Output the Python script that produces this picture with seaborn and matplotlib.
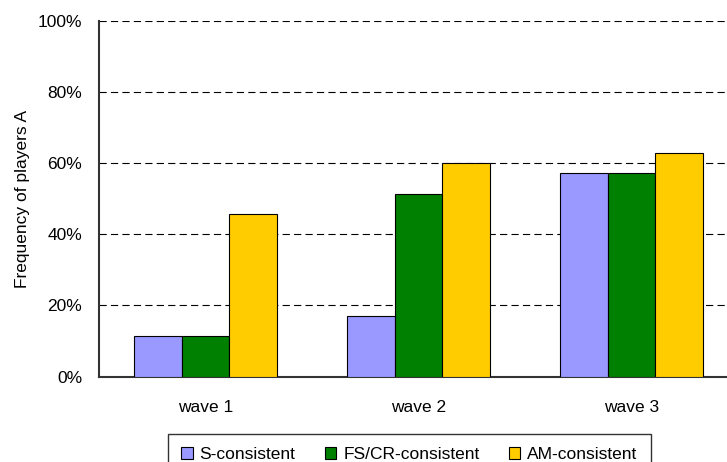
import seaborn as sns
import matplotlib.pyplot as plt
import matplotlib.ticker as mticker
import pandas as pd

sns.set_style("white")
plt.rcParams['font.family'] = ['Liberation Sans', 'DejaVu Sans']
plt.rcParams['text.color'] = 'black'
plt.rcParams['xtick.color'] = 'black'
plt.rcParams['ytick.color'] = 'black'
plt.rcParams['axes.labelcolor'] = 'black'

# --- data ---
waves = ["wave 1", "wave 2", "wave 3"]
types = ["S-consistent", "FS/CR-consistent", "AM-consistent"]
s_consistent = [11.4, 17.1, 57.1]
fscr_consistent = [11.4, 51.4, 57.1]
am_consistent = [45.7, 60.0, 62.9]
colors = ["#9999FF", "#008000", "#FFCC00"]

df = pd.DataFrame({
    "wave": waves * 3,
    "type": [t for t in types for _ in waves],
    "freq": s_consistent + fscr_consistent + am_consistent,
})

fig = plt.figure(figsize=(7.27, 4.62), dpi=100)
ax = fig.add_axes([99 / 727, 1 - 376.7 / 462, (738 - 99) / 727, (376.7 - 20.7) / 462])

sns.barplot(data=df, x="wave", y="freq", hue="type", hue_order=types,
            palette=colors, saturation=1, width=0.667, edgecolor="black",
            linewidth=0.8, ax=ax, legend=True, zorder=3)

ax.set_ylim(0, 100)
ax.set_xlim(-0.5, 2.5)
ax.yaxis.set_major_locator(mticker.MultipleLocator(20))
ax.yaxis.set_major_formatter(mticker.FuncFormatter(lambda v, p: f"{v:.0f}%"))
ax.yaxis.grid(True, color="black", linestyle=(0, (6.5, 3.8)), linewidth=0.8, zorder=0)
ax.set_axisbelow(True)

ax.set_xticks([-0.5, 0.5, 1.5, 2.5], minor=True)
ax.tick_params(axis="x", which="major", length=0, labelsize=12.5, pad=17)
ax.tick_params(axis="x", which="minor", length=6, width=1.2, color="#333333", direction="out")
ax.tick_params(axis="y", length=6, width=1.2, color="#333333", direction="out",
               labelsize=12.5, pad=6)

for side in ["top", "right"]:
    ax.spines[side].set_visible(False)
for side in ["left", "bottom"]:
    ax.spines[side].set_color("#333333")
    ax.spines[side].set_linewidth(1.5)

ax.set_xlabel("")
ax.set_ylabel("Frequency of players A", fontsize=12.5, labelpad=6)

handles, labels = ax.get_legend_handles_labels()
ax.get_legend().remove()
fig.legend(handles, labels, loc="upper center", bbox_to_anchor=(409.5 / 727, 1 - 434 / 462),
           ncol=3, fontsize=12.5, frameon=True, fancybox=False, edgecolor="black",
           handlelength=0.65, handleheight=0.65, handletextpad=0.4, columnspacing=1.7,
           borderpad=0.75, borderaxespad=0)
fig.legends[0].get_frame().set_linewidth(1.0)

fig.savefig("out.png", dpi=100)
plt.close(fig)
